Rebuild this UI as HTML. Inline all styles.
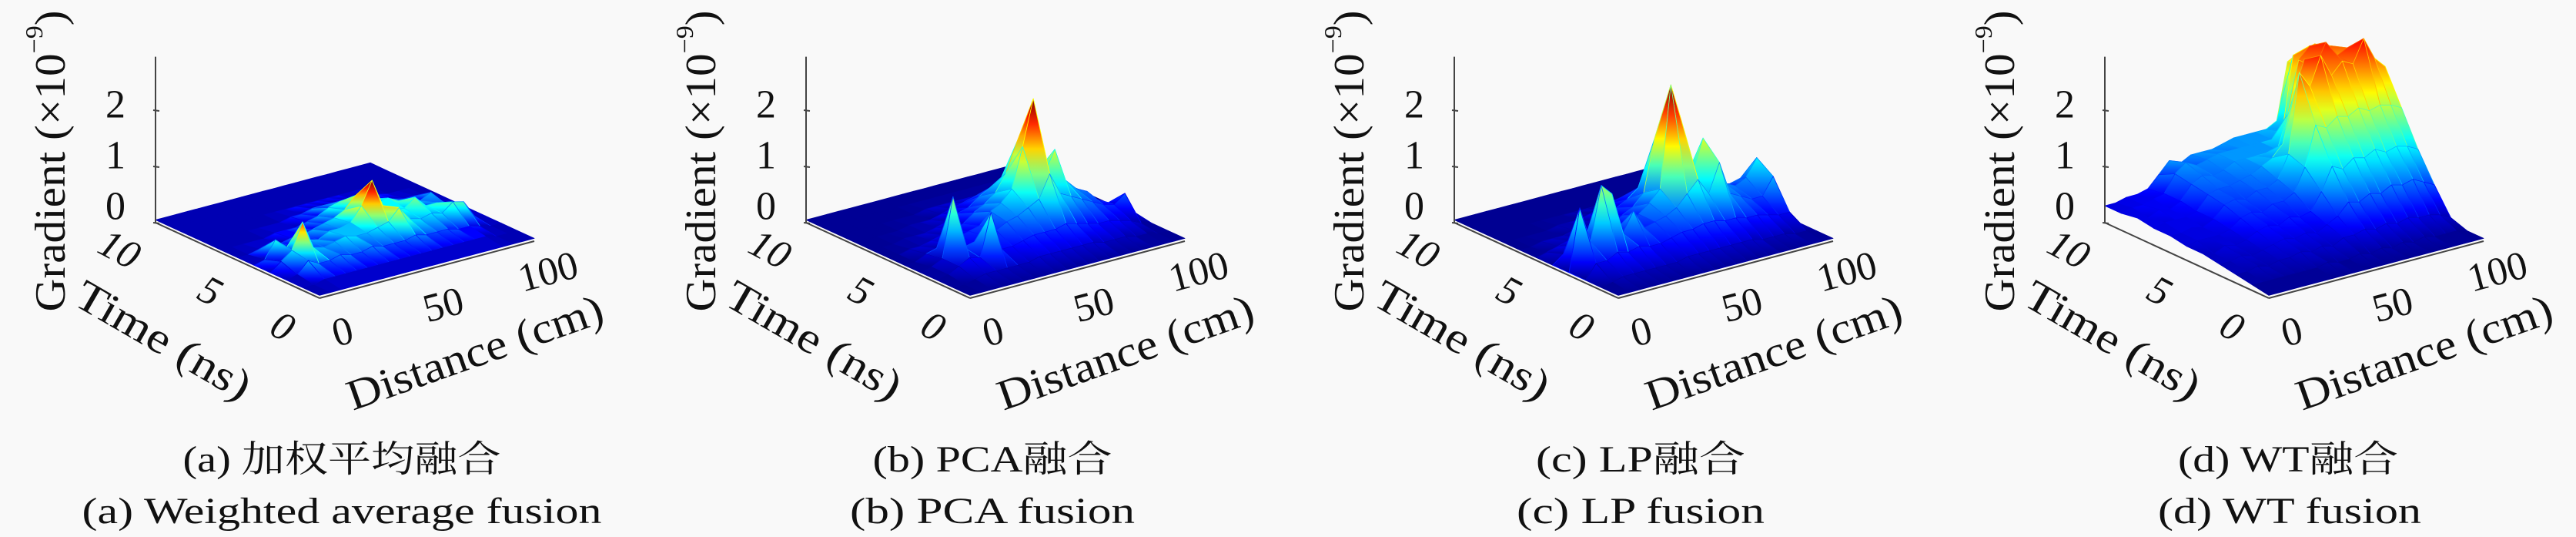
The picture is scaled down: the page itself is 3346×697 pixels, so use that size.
<!DOCTYPE html>
<html><head><meta charset="utf-8"><title>Gradient surfaces</title>
<style>
html,body{margin:0;padding:0;background:#f9f9f9;}
svg{display:block;}
svg text{font-family:'Liberation Serif','DejaVu Serif','Noto Serif CJK SC',serif !important;fill:#111;}
</style></head>
<body>
<svg id="fig" width="3346" height="697" viewBox="0 0 3346 697" xmlns="http://www.w3.org/2000/svg" font-family="'Liberation Serif', 'DejaVu Serif', 'Noto Serif CJK SC', serif">
<defs id="grads"></defs>
<rect width="3346" height="697" fill="#f9f9f9"/>
<g id="surfaces"></g>

<!-- panel a -->
<g transform="translate(0,0)">
<text x="150" y="136" font-size="52" text-anchor="middle" dominant-baseline="central">2</text>
<text x="150" y="202" font-size="52" text-anchor="middle" dominant-baseline="central">1</text>
<text x="150" y="268" font-size="52" text-anchor="middle" dominant-baseline="central">0</text>
<text transform="translate(66,209) rotate(-90)" font-size="56" text-anchor="middle" dominant-baseline="central" textLength="391" lengthAdjust="spacingAndGlyphs">Gradient (×10<tspan font-size="32" dy="-22">−9</tspan><tspan dy="22">)</tspan></text>
<text transform="translate(155,324) rotate(28)" font-size="52" font-style="italic" text-anchor="middle" dominant-baseline="central">10</text>
<text transform="translate(273,378) rotate(28)" font-size="52" font-style="italic" text-anchor="middle" dominant-baseline="central">5</text>
<text transform="translate(367,424) rotate(28)" font-size="52" font-style="italic" text-anchor="middle" dominant-baseline="central">0</text>
<text transform="translate(445,431) rotate(-15)" font-size="52" text-anchor="middle" dominant-baseline="central">0</text>
<text transform="translate(576,396) rotate(-15)" font-size="52" text-anchor="middle" dominant-baseline="central">50</text>
<text transform="translate(712,353) rotate(-15)" font-size="52" text-anchor="middle" dominant-baseline="central">100</text>
<text transform="translate(212,442) rotate(30)" font-size="56" text-anchor="middle" dominant-baseline="central" textLength="254" lengthAdjust="spacingAndGlyphs">Time (ns)</text>
<text transform="translate(617,458) rotate(-19.4)" font-size="56" text-anchor="middle" dominant-baseline="central" textLength="349" lengthAdjust="spacingAndGlyphs">Distance (cm)</text>
<text x="444" y="612" font-size="48" text-anchor="middle" textLength="413" lengthAdjust="spacingAndGlyphs">(a) 加权平均融合</text>
<text x="444" y="679" font-size="48" text-anchor="middle" textLength="675" lengthAdjust="spacingAndGlyphs">(a) Weighted average fusion</text>
</g>

<!-- panel b -->
<g transform="translate(845,0)">
<text x="150" y="136" font-size="52" text-anchor="middle" dominant-baseline="central">2</text>
<text x="150" y="202" font-size="52" text-anchor="middle" dominant-baseline="central">1</text>
<text x="150" y="268" font-size="52" text-anchor="middle" dominant-baseline="central">0</text>
<text transform="translate(66,209) rotate(-90)" font-size="56" text-anchor="middle" dominant-baseline="central" textLength="391" lengthAdjust="spacingAndGlyphs">Gradient (×10<tspan font-size="32" dy="-22">−9</tspan><tspan dy="22">)</tspan></text>
<text transform="translate(155,324) rotate(28)" font-size="52" font-style="italic" text-anchor="middle" dominant-baseline="central">10</text>
<text transform="translate(273,378) rotate(28)" font-size="52" font-style="italic" text-anchor="middle" dominant-baseline="central">5</text>
<text transform="translate(367,424) rotate(28)" font-size="52" font-style="italic" text-anchor="middle" dominant-baseline="central">0</text>
<text transform="translate(445,431) rotate(-15)" font-size="52" text-anchor="middle" dominant-baseline="central">0</text>
<text transform="translate(576,396) rotate(-15)" font-size="52" text-anchor="middle" dominant-baseline="central">50</text>
<text transform="translate(712,353) rotate(-15)" font-size="52" text-anchor="middle" dominant-baseline="central">100</text>
<text transform="translate(212,442) rotate(30)" font-size="56" text-anchor="middle" dominant-baseline="central" textLength="254" lengthAdjust="spacingAndGlyphs">Time (ns)</text>
<text transform="translate(617,458) rotate(-19.4)" font-size="56" text-anchor="middle" dominant-baseline="central" textLength="349" lengthAdjust="spacingAndGlyphs">Distance (cm)</text>
<text x="444" y="612" font-size="48" text-anchor="middle" textLength="311" lengthAdjust="spacingAndGlyphs">(b) PCA融合</text>
<text x="444" y="679" font-size="48" text-anchor="middle" textLength="370" lengthAdjust="spacingAndGlyphs">(b) PCA fusion</text>
</g>

<!-- panel c -->
<g transform="translate(1687,0)">
<text x="150" y="136" font-size="52" text-anchor="middle" dominant-baseline="central">2</text>
<text x="150" y="202" font-size="52" text-anchor="middle" dominant-baseline="central">1</text>
<text x="150" y="268" font-size="52" text-anchor="middle" dominant-baseline="central">0</text>
<text transform="translate(66,209) rotate(-90)" font-size="56" text-anchor="middle" dominant-baseline="central" textLength="391" lengthAdjust="spacingAndGlyphs">Gradient (×10<tspan font-size="32" dy="-22">−9</tspan><tspan dy="22">)</tspan></text>
<text transform="translate(155,324) rotate(28)" font-size="52" font-style="italic" text-anchor="middle" dominant-baseline="central">10</text>
<text transform="translate(273,378) rotate(28)" font-size="52" font-style="italic" text-anchor="middle" dominant-baseline="central">5</text>
<text transform="translate(367,424) rotate(28)" font-size="52" font-style="italic" text-anchor="middle" dominant-baseline="central">0</text>
<text transform="translate(445,431) rotate(-15)" font-size="52" text-anchor="middle" dominant-baseline="central">0</text>
<text transform="translate(576,396) rotate(-15)" font-size="52" text-anchor="middle" dominant-baseline="central">50</text>
<text transform="translate(712,353) rotate(-15)" font-size="52" text-anchor="middle" dominant-baseline="central">100</text>
<text transform="translate(212,442) rotate(30)" font-size="56" text-anchor="middle" dominant-baseline="central" textLength="254" lengthAdjust="spacingAndGlyphs">Time (ns)</text>
<text transform="translate(617,458) rotate(-19.4)" font-size="56" text-anchor="middle" dominant-baseline="central" textLength="349" lengthAdjust="spacingAndGlyphs">Distance (cm)</text>
<text x="444" y="612" font-size="48" text-anchor="middle" textLength="272" lengthAdjust="spacingAndGlyphs">(c) LP融合</text>
<text x="444" y="679" font-size="48" text-anchor="middle" textLength="322" lengthAdjust="spacingAndGlyphs">(c) LP fusion</text>
</g>

<!-- panel d -->
<g transform="translate(2532,0)">
<text x="150" y="136" font-size="52" text-anchor="middle" dominant-baseline="central">2</text>
<text x="150" y="202" font-size="52" text-anchor="middle" dominant-baseline="central">1</text>
<text x="150" y="268" font-size="52" text-anchor="middle" dominant-baseline="central">0</text>
<text transform="translate(66,209) rotate(-90)" font-size="56" text-anchor="middle" dominant-baseline="central" textLength="391" lengthAdjust="spacingAndGlyphs">Gradient (×10<tspan font-size="32" dy="-22">−9</tspan><tspan dy="22">)</tspan></text>
<text transform="translate(155,324) rotate(28)" font-size="52" font-style="italic" text-anchor="middle" dominant-baseline="central">10</text>
<text transform="translate(273,378) rotate(28)" font-size="52" font-style="italic" text-anchor="middle" dominant-baseline="central">5</text>
<text transform="translate(367,424) rotate(28)" font-size="52" font-style="italic" text-anchor="middle" dominant-baseline="central">0</text>
<text transform="translate(445,431) rotate(-15)" font-size="52" text-anchor="middle" dominant-baseline="central">0</text>
<text transform="translate(576,396) rotate(-15)" font-size="52" text-anchor="middle" dominant-baseline="central">50</text>
<text transform="translate(712,353) rotate(-15)" font-size="52" text-anchor="middle" dominant-baseline="central">100</text>
<text transform="translate(212,442) rotate(30)" font-size="56" text-anchor="middle" dominant-baseline="central" textLength="254" lengthAdjust="spacingAndGlyphs">Time (ns)</text>
<text transform="translate(617,458) rotate(-19.4)" font-size="56" text-anchor="middle" dominant-baseline="central" textLength="349" lengthAdjust="spacingAndGlyphs">Distance (cm)</text>
<text x="440" y="612" font-size="48" text-anchor="middle" textLength="286" lengthAdjust="spacingAndGlyphs">(d) WT融合</text>
<text x="442" y="679" font-size="48" text-anchor="middle" textLength="342" lengthAdjust="spacingAndGlyphs">(d) WT fusion</text>
</g>
</svg>

<script>
// ---- data (rows: time 0..10 ns, columns: distance 0..100 cm step 5) ----
const timeValues = [0,1,2,3,4,5,6,7,8,9,10];
const distanceValues = [0,5,10,15,20,25,30,35,40,45,50,55,60,65,70,75,80,85,90,95,100];
const zTicks = [0,1,2];
const panelNames = ['a','b','c','d'];
const colorMax = [1.0, 2.4, 2.7, 3.3];

const gradientA = [
[.05,.05,.05,.05,.05,.05,.05,.05,.05,.05,.05,.05,.05,.05,.05,.05,.05,.05,.05,.05,.05],
[.05,.05,.1,.1,.1,.1,.1,.1,.1,.1,.1,.1,.1,.1,.1,.1,.1,.1,.05,.05,.05],
[.05,.1,.3,.2,.2,.25,.2,.2,.25,.2,.2,.2,.25,.2,.2,.2,.15,.15,.1,.05,.05],
[.05,.2,.35,.8,.3,.25,.3,.35,.3,.3,.35,.4,.6,.35,.3,.35,.3,.45,.4,.1,.05],
[.05,.1,.4,.2,.2,.25,.2,.3,.3,.35,.6,1.0,.5,.4,.35,.5,.3,.3,.2,.1,.05],
[.05,.05,.1,.1,.1,.15,.15,.2,.25,.3,.4,.6,.5,.35,.4,.3,.25,.2,.3,.1,.05],
[.05,.05,.05,.05,.05,.1,.1,.1,.15,.2,.3,.35,.3,.3,.25,.2,.15,.1,.1,.05,.05],
[.05,.05,.05,.05,.05,.05,.05,.05,.1,.1,.15,.15,.15,.15,.1,.1,.1,.05,.05,.05,.05],
[.05,.05,.05,.05,.05,.05,.05,.05,.05,.05,.05,.05,.05,.05,.05,.05,.05,.05,.05,.05,.05],
[.05,.05,.05,.05,.05,.05,.05,.05,.05,.05,.05,.05,.05,.05,.05,.05,.05,.05,.05,.05,.05],
[.05,.05,.05,.05,.05,.05,.05,.05,.05,.05,.05,.05,.05,.05,.05,.05,.05,.05,.05,.05,.05]];

const gradientB = [
[.05,.05,.05,.05,.05,.05,.05,.05,.05,.05,.05,.05,.05,.05,.05,.05,.05,.05,.05,.05,.05],
[.05,.05,.1,.15,.15,.15,.15,.15,.2,.2,.2,.2,.2,.2,.15,.15,.15,.1,.1,.05,.05],
[.05,.1,.2,.3,.25,1.0,.3,.3,.35,.4,.4,.4,.45,.4,.35,.3,.3,.25,.2,.1,.05],
[.05,.1,.2,1.25,.3,.35,.4,.45,.55,.6,.7,.8,1.2,.8,.7,.6,.5,.4,.35,.5,.1],
[.05,.05,.15,.2,.25,.3,.35,.4,.6,.7,.9,1.6,2.4,1.0,1.4,.8,.6,.5,.3,.2,.05],
[.05,.05,.1,.1,.15,.2,.25,.3,.45,.55,.7,1.0,1.5,.8,.9,.7,.6,.4,.25,.1,.05],
[.05,.05,.05,.1,.1,.1,.15,.2,.3,.35,.5,.6,.7,.6,.5,.5,.4,.3,.15,.05,.05],
[.05,.05,.05,.05,.05,.1,.1,.1,.15,.2,.25,.3,.3,.3,.25,.2,.2,.15,.1,.05,.05],
[.05,.05,.05,.05,.05,.05,.05,.05,.1,.1,.1,.1,.1,.1,.1,.1,.1,.05,.05,.05,.05],
[.05,.05,.05,.05,.05,.05,.05,.05,.05,.05,.05,.05,.05,.05,.05,.05,.05,.05,.05,.05,.05],
[.05,.05,.05,.05,.05,.05,.05,.05,.05,.05,.05,.05,.05,.05,.05,.05,.05,.05,.05,.05,.05]];

const gradientC = [
[.05,.05,.05,.05,.05,.05,.05,.05,.05,.05,.05,.05,.05,.05,.05,.05,.05,.05,.05,.05,.05],
[.05,.1,.15,.15,.15,.15,.15,.15,.2,.2,.2,.2,.2,.2,.2,.15,.15,.15,.1,.1,.05],
[.05,.3,.3,.4,.35,.4,.35,.35,.4,.45,.45,.5,.5,.45,.45,.4,.4,.35,.3,.3,.05],
[.05,1.15,.5,1.45,1.25,.5,.85,.5,.55,.6,.7,.9,1.1,.8,1.3,.7,.6,.5,.5,.8,.1],
[.05,.2,.3,.35,.3,.35,.4,.4,.55,.7,.9,2.7,2.0,1.0,1.6,.8,.7,.6,.7,1.0,.1],
[.05,.1,.15,.2,.2,.2,.25,.3,.4,.5,.7,1.6,1.2,.8,.8,.7,.6,.5,.45,.5,.05],
[.05,.05,.1,.1,.1,.15,.15,.2,.3,.35,.45,.6,.6,.5,.5,.45,.4,.3,.25,.15,.05],
[.05,.05,.05,.05,.05,.1,.1,.1,.15,.2,.25,.3,.3,.3,.25,.2,.2,.15,.1,.05,.05],
[.05,.05,.05,.05,.05,.05,.05,.05,.05,.05,.05,.05,.05,.05,.05,.05,.05,.05,.05,.05,.05],
[.05,.05,.05,.05,.05,.05,.05,.05,.05,.05,.05,.05,.05,.05,.05,.05,.05,.05,.05,.05,.05],
[.05,.05,.05,.05,.05,.05,.05,.05,.05,.05,.05,.05,.05,.05,.05,.05,.05,.05,.05,.05,.05]];

const gradientD = [
[.05,.05,.05,.05,.05,.05,.05,.05,.05,.05,.05,.05,.05,.05,.05,.05,.05,.05,.05,.05,.05],
[.1,.1,.1,.1,.1,.1,.1,.15,.1,.1,.15,.1,.15,.1,.15,.1,.15,.1,.1,.1,.05],
[.15,.15,.2,.15,.2,.2,.25,.2,.25,.2,.3,.3,.35,.3,.35,.3,.35,.3,.3,.25,.15],
[.2,.2,.25,.2,.25,.3,.35,.3,.35,.3,.4,.5,.7,.65,.75,.7,.8,.75,.8,.7,.6],
[.25,.2,.3,.25,.3,.4,.45,.4,.5,.45,.5,.8,1.2,1.1,1.25,1.2,1.3,1.2,1.25,1.2,1.1],
[.25,.3,.3,.3,.35,.5,.55,.5,.6,.6,.7,1.1,1.8,1.7,1.85,1.8,1.9,1.8,1.85,1.8,1.7],
[.3,.3,.35,.3,.4,.6,.65,.6,.7,.7,.8,1.2,2.6,2.3,2.8,2.4,2.6,2.5,2.9,2.5,2.3],
[.3,.35,.35,.35,.4,.65,.7,.7,.75,.8,.9,1.0,1.2,2.0,2.6,2.4,2.8,2.5,2.6,2.4,2.2],
[.35,.3,.4,.35,.45,.7,.8,.75,.8,.9,.9,.9,.9,.9,1.5,2.4,2.6,2.3,2.5,2.3,2.1],
[.3,.35,.35,.4,.45,.75,.9,.8,.85,.9,.9,.9,.9,.9,.9,1.0,2.3,2.1,2.4,2.2,2.0],
[.3,.3,.35,.35,.4,.6,.8,.7,.8,.8,.8,.85,.9,.9,.9,.9,1.0,2.0,2.1,1.9,1.8]];

const panelGrids = [gradientA, gradientB, gradientC, gradientD];

// ---- geometry (layout, not data) ----
const panelOffsets = [0, 845, 1687, 2532];
const ORIGIN_X = 415, ORIGIN_Y = 387;
const T_VEC = [-213, -98];
const D_VEC = [279, -74];
const Z_UNIT = 73;
const T_MAX = 10, D_MAX = 100, Z_TOP = 2.95;

function project(off, t, d, z) {
  const ft = t / T_MAX, fd = d / D_MAX;
  return [off + ORIGIN_X + T_VEC[0]*ft + D_VEC[0]*fd,
          ORIGIN_Y + T_VEC[1]*ft + D_VEC[1]*fd - Z_UNIT*z];
}

function jet(v) {
  v = Math.max(0, Math.min(1, v));
  const r = Math.max(0, Math.min(1, 1.5 - Math.abs(4*v - 3)));
  const g = Math.max(0, Math.min(1, 1.5 - Math.abs(4*v - 2)));
  const b = Math.max(0, Math.min(1, 1.5 - Math.abs(4*v - 1)));
  return 'rgb(' + Math.round(r*255) + ',' + Math.round(g*255) + ',' + Math.round(b*255) + ')';
}

const NS = 'http://www.w3.org/2000/svg';
const surfRoot = document.getElementById('surfaces');
const defs = document.getElementById('grads');
let gradCount = 0;

panelGrids.forEach(function(grid, p) {
  const off = panelOffsets[p];
  const cmax = colorMax[p];
  const g = document.createElementNS(NS, 'g');
  
  
  surfRoot.appendChild(g);

  const axes = document.createElementNS(NS, 'g');
  
  
  axes.setAttribute('stroke', '#444');
  axes.setAttribute('stroke-width', '2');
  const c0 = project(off, T_MAX, 0, 0), cTop = project(off, T_MAX, 0, Z_TOP);
  const o = project(off, 0, 0, 0), r = project(off, 0, D_MAX, 0);
  const zline = document.createElementNS(NS, 'line');
  
  
  zline.setAttribute('x1', c0[0]); zline.setAttribute('y1', c0[1]);
  zline.setAttribute('x2', cTop[0]); zline.setAttribute('y2', cTop[1]);
  axes.appendChild(zline);
  zTicks.forEach(function(zt) {
    const pt = project(off, T_MAX, 0, zt);
    const tk = document.createElementNS(NS, 'line');
    
    
    tk.setAttribute('x1', pt[0] - 3); tk.setAttribute('y1', pt[1]);
    tk.setAttribute('x2', pt[0] + 5); tk.setAttribute('y2', pt[1] + 1);
    axes.appendChild(tk);
  });

  const quads = [];
  for (let i = 0; i < timeValues.length - 1; i++) {
    for (let j = 0; j < distanceValues.length - 1; j++) {
      const tm = (timeValues[i] + timeValues[i+1]) / 2;
      const dm = (distanceValues[j] + distanceValues[j+1]) / 2;
      quads.push({i: i, j: j, depth: -(T_VEC[1]*tm/T_MAX + D_VEC[1]*dm/D_MAX)});
    }
  }
  quads.sort(function(a, b) { return b.depth - a.depth; });
  quads.forEach(function(q) {
    const i = q.i, j = q.j;
    const corners = [[i,j],[i+1,j],[i+1,j+1],[i,j+1]];
    const pts = corners.map(function(c) {
      return project(off, timeValues[c[0]], distanceValues[c[1]], grid[c[0]][c[1]]);
    });
    const zs = corners.map(function(c) { return grid[c[0]][c[1]]; });
    const zmax = Math.max.apply(null, zs), zmin = Math.min.apply(null, zs);
    const zmean = (zs[0]+zs[1]+zs[2]+zs[3]) / 4;
    const poly = document.createElementNS(NS, 'polygon');
    
    
    poly.setAttribute('points', pts.map(function(pp){return pp[0].toFixed(1)+','+pp[1].toFixed(1);}).join(' '));
    let fill = jet(zmean / cmax);
    if (zmax - zmin > 0.08) {
      const ys = pts.map(function(pp){return pp[1];});
      const yTop = Math.min.apply(null, ys), yBot = Math.max.apply(null, ys);
      const id = 'sg' + (gradCount++);
      const lg = document.createElementNS(NS, 'linearGradient');
      lg.setAttribute('id', id);
      lg.setAttribute('gradientUnits', 'userSpaceOnUse');
      lg.setAttribute('x1', 0); lg.setAttribute('x2', 0);
      lg.setAttribute('y1', yTop); lg.setAttribute('y2', yBot);
      for (let s = 0; s <= 4; s++) {
        const f = s / 4;
        const st = document.createElementNS(NS, 'stop');
        st.setAttribute('offset', f);
        st.setAttribute('stop-color', jet((zmax - (zmax - zmin)*f) / cmax));
        lg.appendChild(st);
      }
      defs.appendChild(lg);
      fill = 'url(#' + id + ')';
      poly.setAttribute('stroke', jet(zmean / cmax));
    } else {
      poly.setAttribute('stroke', fill);
    }
    poly.setAttribute('fill', fill);
    poly.setAttribute('stroke-width', '0.8');
    poly.setAttribute('stroke-linejoin', 'round');
    g.appendChild(poly);
  });

  const tline = document.createElementNS(NS, 'line');
  
  
  tline.setAttribute('x1', c0[0]); tline.setAttribute('y1', c0[1]);
  tline.setAttribute('x2', o[0]); tline.setAttribute('y2', o[1]);
  axes.appendChild(tline);
  const dline = document.createElementNS(NS, 'line');
  
  
  dline.setAttribute('x1', o[0]); dline.setAttribute('y1', o[1]);
  dline.setAttribute('x2', r[0]); dline.setAttribute('y2', r[1]);
  axes.appendChild(dline);
  g.appendChild(axes);
});
</script>
</body></html>
